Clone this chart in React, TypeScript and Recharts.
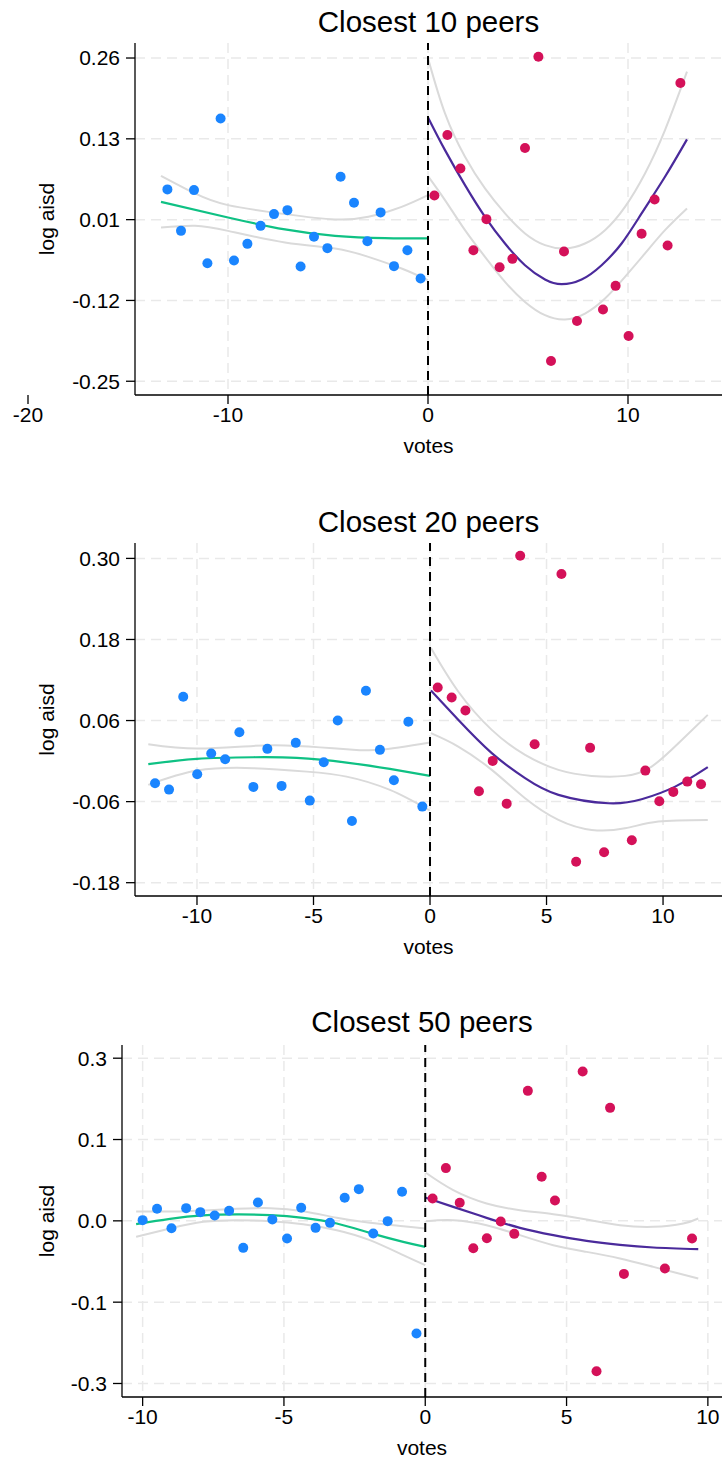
import { ComposedChart, Scatter, Line, XAxis, YAxis, CartesianGrid, ReferenceLine } from 'recharts'

type Pair = [number, number]

// ---- Closest 10 peers ----
const p1Blue: Pair[] = [[-13.03, 0.0527], [-12.35, -0.0127], [-11.7, 0.0516], [-11.03, -0.0637], [-10.37, 0.1645], [-9.7, -0.0595], [-9.03, -0.0332], [-8.37, -0.0048], [-7.7, 0.0137], [-7.03, 0.02], [-6.37, -0.0689], [-5.7, -0.0221], [-5.03, -0.04], [-4.37, 0.0726], [-3.7, 0.0316], [-3.03, -0.029], [-2.37, 0.0164], [-1.7, -0.0684], [-1.03, -0.0432], [-0.37, -0.0879]]
const p1Red: Pair[] = [[0.32, 0.0432], [0.97, 0.1384], [1.62, 0.0858], [2.27, -0.0432], [2.92, 0.0058], [3.58, -0.07], [4.22, -0.0569], [4.85, 0.1179], [5.52, 0.262], [6.15, -0.218], [6.8, -0.0453], [7.45, -0.1548], [8.75, -0.1369], [9.38, -0.0995], [10.03, -0.1785], [10.68, -0.0174], [11.33, 0.0369], [11.98, -0.0358], [12.62, 0.2205]]
const p1FitL: Pair[] = [[-13.35, 0.0331], [-10, 0.0084], [-7.15, -0.0105], [-4.65, -0.0206], [-2.15, -0.0242], [0, -0.0247]]
const p1UpL: Pair[] = [[-13.35, 0.0742], [-11.65, 0.0463], [-10, 0.0279], [-7.15, 0.0137], [-4.65, 0.0053], [-2.98, 0.0094], [-1.32, 0.0252], [0, 0.0437]]
const p1LoL: Pair[] = [[-13.35, -0.0074], [-11.65, -0.0048], [-10, -0.0127], [-7.15, -0.031], [-4.65, -0.0405], [-2.98, -0.0537], [-1.32, -0.0721], [0, -0.0905]]
const p1FitR: Pair[] = [[0, 0.1663], [0.85, 0.1147], [1.85, 0.0595], [2.85, 0.0095], [3.85, -0.0326], [4.85, -0.0669], [5.85, -0.0895], [6.68, -0.0969], [7.68, -0.0895], [8.68, -0.0669], [9.68, -0.0326], [10.68, 0.0148], [11.85, 0.0726], [12.95, 0.1316]]
const p1UpR: Pair[] = [[0, 0.2595], [0.85, 0.1726], [1.85, 0.1042], [2.85, 0.0542], [3.85, 0.0148], [4.85, -0.0168], [5.85, -0.0353], [6.85, -0.0405], [7.85, -0.0326], [8.85, -0.0116], [9.85, 0.0252], [10.85, 0.0779], [11.85, 0.1463], [12.95, 0.2384]]
const p1LoR: Pair[] = [[0, 0.0737], [0.85, 0.0358], [1.85, -0.0116], [2.85, -0.0537], [3.85, -0.0932], [4.85, -0.1248], [5.85, -0.1458], [6.85, -0.1526], [7.85, -0.1432], [8.85, -0.1195], [9.85, -0.0853], [10.85, -0.0484], [11.85, -0.0116], [12.95, 0.0226]]
const p1XTicks = [-20, -10, 0, 10]
const p1YTicks = [-0.25, -0.1225, 0.005, 0.1325, 0.26]
const p1YLabels = ['-0.25', '-0.12', '0.01', '0.13', '0.26']

// ---- Closest 20 peers ----
const p2Blue: Pair[] = [[-11.8, -0.0327], [-11.2, -0.0422], [-10.59, 0.0951], [-9.99, -0.0194], [-9.39, 0.0111], [-8.79, 0.0028], [-8.18, 0.0428], [-7.58, -0.0382], [-6.98, 0.0181], [-6.37, -0.0367], [-5.76, 0.027], [-5.16, -0.0585], [-4.56, -0.0017], [-3.96, 0.06], [-3.35, -0.0886], [-2.75, 0.104], [-2.15, 0.0166], [-1.55, -0.0284], [-0.93, 0.0581], [-0.33, -0.0674]]
const p2Red: Pair[] = [[0.33, 0.1089], [0.93, 0.0941], [1.52, 0.0748], [2.1, -0.0446], [2.69, 0.0003], [3.29, -0.063], [3.87, 0.304], [4.49, 0.025], [5.64, 0.277], [6.27, -0.1489], [6.87, 0.0196], [7.47, -0.135], [8.66, -0.1172], [9.24, -0.0141], [9.84, -0.0595], [10.44, -0.0456], [11.04, -0.0304], [11.63, -0.0343]]
const p2FitL: Pair[] = [[-12.09, -0.0046], [-10.01, 0.0033], [-7.58, 0.0057], [-5.72, 0.0047], [-3.58, -0.0022], [-1.72, -0.0116], [0, -0.0219]]
const p2UpL: Pair[] = [[-12.09, 0.025], [-10, 0.0185], [-7.58, 0.0225], [-5.72, 0.0225], [-3.58, 0.0176], [-2.15, 0.0166], [0, 0.0274]]
const p2LoL: Pair[] = [[-12.09, -0.0353], [-10, -0.0141], [-7.58, -0.0105], [-5.29, -0.0156], [-3.58, -0.023], [-1.72, -0.0427], [0, -0.0733]]
const p2FitR: Pair[] = [[0.04, 0.1044], [1.21, 0.061], [2.65, 0.0117], [4.08, -0.0253], [5.51, -0.05], [7.65, -0.0624], [9.08, -0.0565], [10.52, -0.0378], [11.92, -0.009]]
const p2UpR: Pair[] = [[0.04, 0.1673], [1.21, 0.103], [2.65, 0.0462], [4.08, 0.0092], [5.51, -0.013], [6.94, -0.0219], [8.37, -0.0219], [9.51, -0.0081], [10.66, 0.0265], [11.92, 0.0684]]
const p2LoR: Pair[] = [[0.04, 0.0413], [1.21, 0.0215], [2.65, -0.013], [4.08, -0.055], [5.51, -0.0871], [6.94, -0.1019], [8.37, -0.0995], [9.8, -0.0896], [11.92, -0.0871]]
const p2XTicks = [-10, -5, 0, 5, 10]
const p2YTicks = [-0.18, -0.06, 0.06, 0.18, 0.3]
const p2YLabels = ['-0.18', '-0.06', '0.06', '0.18', '0.30']

// ---- Closest 50 peers ----
const p3Blue: Pair[] = [[-10, 0.0011], [-9.49, 0.0192], [-8.98, -0.0117], [-8.46, 0.0203], [-7.96, 0.0139], [-7.45, 0.0086], [-6.94, 0.016], [-6.44, -0.0432], [-5.92, 0.0294], [-5.41, 0.0022], [-4.89, -0.0282], [-4.39, 0.0208], [-3.88, -0.0112], [-3.37, -0.0032], [-2.85, 0.0368], [-2.35, 0.0507], [-1.84, -0.0202], [-1.33, -0.0005], [-0.82, 0.0464], [-0.31, -0.18]]
const p3Red: Pair[] = [[0.26, 0.0358], [0.73, 0.0843], [1.22, 0.0288], [1.7, -0.0437], [2.18, -0.0277], [2.67, -0.001], [3.15, -0.0208], [3.63, 0.2078], [4.12, 0.0704], [4.59, 0.0326], [5.57, 0.2387], [6.06, -0.2403], [6.54, 0.1806], [7.03, -0.0848], [8.48, -0.0762], [9.44, -0.0282]]
const p3FitL: Pair[] = [[-10.23, -0.0053], [-9.03, 0.0032], [-7.85, 0.0086], [-6.67, 0.0102], [-5.49, 0.0091], [-4.32, 0.0048], [-3.13, -0.0042], [-1.96, -0.0192], [-0.78, -0.0336], [0, -0.0416]]
const p3UpL: Pair[] = [[-10.23, 0.015], [-8.44, 0.0155], [-6.67, 0.0192], [-5.49, 0.0203], [-4.32, 0.0155], [-3.13, 0.0048], [-1.96, -0.0032], [-0.78, -0.0085], [0, -0.0122]]
const p3LoL: Pair[] = [[-10.23, -0.0256], [-9.03, -0.0122], [-7.85, -0.0016], [-6.67, 0.0011], [-5.49, -0.0005], [-4.32, -0.0053], [-3.13, -0.0149], [-1.96, -0.0309], [-0.78, -0.0549], [0, -0.0709]]
const p3FitR: Pair[] = [[0.02, 0.0368], [0.99, 0.0224], [2.17, 0.0048], [3.35, -0.0112], [4.53, -0.0229], [5.71, -0.032], [6.89, -0.0384], [8.07, -0.0426], [9.66, -0.0453]]
const p3UpR: Pair[] = [[0.02, 0.0768], [0.99, 0.0491], [2.17, 0.0278], [3.35, 0.0171], [4.53, 0.0107], [5.71, 0.0022], [6.89, -0.0069], [8.07, -0.0096], [9.13, -0.0042], [9.66, 0.0038]]
const p3LoR: Pair[] = [[0.02, -0.0005], [0.99, 0.0011], [2.17, -0.0069], [3.35, -0.0229], [4.53, -0.0389], [5.71, -0.0496], [6.89, -0.0602], [8.07, -0.0736], [9.66, -0.0922]]
const p3XTicks = [-10, -5, 0, 5, 10]
const p3YTicks = [-0.26, -0.13, 0, 0.13, 0.26]
const p3YLabels = ['-0.3', '-0.1', '0.0', '0.1', '0.3']

const FONT = '"Liberation Sans", Arial, sans-serif'
const BLUE = '#1a85ff'
const RED = '#d41159'
const GREEN = '#0fc184'
const PURPLE = '#4a2a9b'
const CI = '#dadada'
const W = 722

const toPts = (a: Pair[]) => a.map(([x, y]) => ({ x, y }))

interface PanelProps {
  title: string
  top: number
  height: number
  plotTop: number
  plotBottom: number
  plotLeft: number
  xDomain: [number, number]
  xTicks: number[]
  xGrid: number[]
  yDomain: [number, number]
  yTicks: number[]
  yLabels: string[]
  blue: Pair[]
  red: Pair[]
  fitL: Pair[]
  upL: Pair[]
  loL: Pair[]
  fitR: Pair[]
  upR: Pair[]
  loR: Pair[]
}

function curve(data: Pair[], color: string, width = 2) {
  return (
    <Line
      data={toPts(data)}
      dataKey="y"
      type="natural"
      stroke={color}
      strokeWidth={width}
      dot={false}
      activeDot={false}
      isAnimationActive={false}
    />
  )
}

function Panel(p: PanelProps) {
  const tickStyle = { fill: '#000', fontSize: 21, fontFamily: FONT }
  return (
    <div style={{ position: 'absolute', left: 0, top: p.top, width: W, height: p.height, overflow: 'hidden' }}>
      <ComposedChart width={W} height={p.height} margin={{ top: p.plotTop, right: 0, bottom: 0, left: 0 }}>
        <CartesianGrid
          stroke="#e9e9e9"
          strokeWidth={1.5}
          strokeDasharray="10 6"
          verticalValues={p.xGrid}
          horizontalValues={p.yTicks}
        />
        <XAxis
          type="number"
          dataKey="x"
          domain={p.xDomain}
          ticks={p.xTicks}
          interval={0}
          allowDataOverflow
          height={p.height - p.plotBottom}
          tickSize={9}
          tickMargin={3}
          stroke="#000"
          strokeWidth={1.3}
          tick={tickStyle}
          label={{
            content: ({ viewBox }: any) => (
              <text x={viewBox.x + viewBox.width / 2} y={viewBox.y + 58} textAnchor="middle" fontSize={21} fontFamily={FONT} fill="#000">
                votes
              </text>
            ),
          }}
        />
        <YAxis
          type="number"
          dataKey="y"
          domain={p.yDomain}
          ticks={p.yTicks}
          interval={0}
          allowDataOverflow
          width={p.plotLeft}
          tickSize={9}
          tickMargin={6}
          stroke="#000"
          strokeWidth={1.3}
          tick={tickStyle}
          tickFormatter={(v: number) => p.yLabels[p.yTicks.indexOf(v)]}
          label={{
            content: ({ viewBox }: any) => {
              const cy = viewBox.y + viewBox.height / 2
              return (
                <text x={54} y={cy} transform={`rotate(-90, 54, ${cy})`} textAnchor="middle" fontSize={21} fontFamily={FONT} fill="#000">
                  log aisd
                </text>
              )
            },
          }}
        />
        <Scatter
          data={toPts(p.blue)}
          dataKey="y"
          isAnimationActive={false}
          shape={(s: any) => <circle cx={s.cx} cy={s.cy} r={5} fill={BLUE} />}
        />
        <Scatter
          data={toPts(p.red)}
          dataKey="y"
          isAnimationActive={false}
          shape={(s: any) => <circle cx={s.cx} cy={s.cy} r={5} fill={RED} />}
        />
        {curve(p.upL, CI)}
        {curve(p.loL, CI)}
        {curve(p.upR, CI)}
        {curve(p.loR, CI)}
        {curve(p.fitL, GREEN, 2.2)}
        {curve(p.fitR, PURPLE, 2.2)}
        <ReferenceLine x={0} stroke="#000" strokeWidth={2} strokeDasharray="9 6" />
      </ComposedChart>
      <div
        style={{
          position: 'absolute',
          left: p.plotLeft,
          width: W - p.plotLeft,
          top: 6.7,
          textAlign: 'center',
          fontSize: 29.5,
          lineHeight: 1,
          fontFamily: FONT,
          color: '#000',
        }}
      >
        {p.title}
      </div>
    </div>
  )
}

export default function App() {
  return (
    <div style={{ position: 'absolute', left: 0, top: 0, width: W, height: 1458, background: '#fff', overflow: 'hidden' }}>
      <Panel
        title="Closest 10 peers"
        top={0}
        height={500}
        plotTop={43}
        plotBottom={395}
        plotLeft={135}
        xDomain={[-14.65, 14.7]}
        xTicks={p1XTicks}
        xGrid={[-10, 0, 10]}
        yDomain={[-0.2717, 0.2837]}
        yTicks={p1YTicks}
        yLabels={p1YLabels}
        blue={p1Blue}
        red={p1Red}
        fitL={p1FitL}
        upL={p1UpL}
        loL={p1LoL}
        fitR={p1FitR}
        upR={p1UpR}
        loR={p1LoR}
      />
      <Panel
        title="Closest 20 peers"
        top={500}
        height={500}
        plotTop={43}
        plotBottom={396}
        plotLeft={135}
        xDomain={[-12.66, 12.53]}
        xTicks={p2XTicks}
        xGrid={p2XTicks}
        yDomain={[-0.1997, 0.3228]}
        yTicks={p2YTicks}
        yLabels={p2YLabels}
        blue={p2Blue}
        red={p2Red}
        fitL={p2FitL}
        upL={p2UpL}
        loL={p2LoL}
        fitR={p2FitR}
        upR={p2UpR}
        loR={p2LoR}
      />
      <Panel
        title="Closest 50 peers"
        top={1000}
        height={458}
        plotTop={45}
        plotBottom={397}
        plotLeft={122}
        xDomain={[-10.73, 10.5]}
        xTicks={p3XTicks}
        xGrid={p3XTicks}
        yDomain={[-0.2816, 0.2811]}
        yTicks={p3YTicks}
        yLabels={p3YLabels}
        blue={p3Blue}
        red={p3Red}
        fitL={p3FitL}
        upL={p3UpL}
        loL={p3LoL}
        fitR={p3FitR}
        upR={p3UpR}
        loR={p3LoR}
      />
    </div>
  )
}
